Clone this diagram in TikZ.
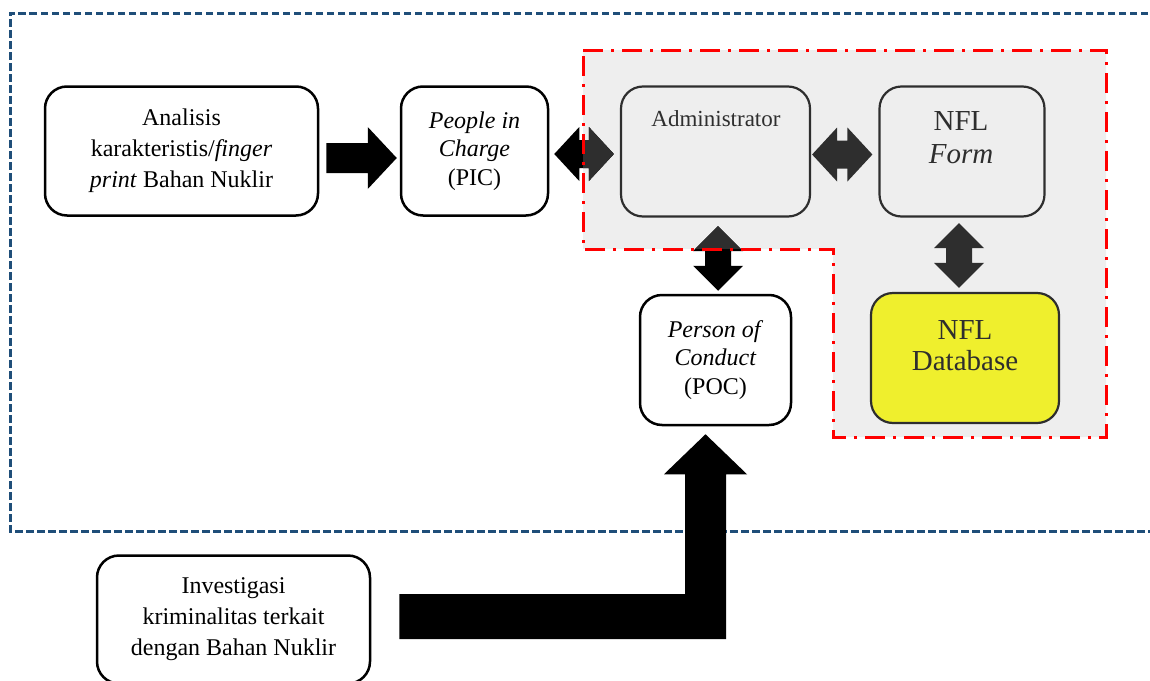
\documentclass[tikz,border=0pt]{standalone}
\usepackage{fontspec}
\setmainfont{Liberation Serif}
\usetikzlibrary{calc}
\definecolor{bluedash}{RGB}{31,78,121}
\definecolor{regiongray}{RGB}{238,238,238}
\definecolor{darkg}{RGB}{46,46,46}
\definecolor{dbyellow}{RGB}{239,239,45}
\newcommand\hdblarrow[3]{%
  \path[#3] let \p1=#1, \p2=#2 in
  (\x1,\y1) -- (\x1+25pt,\y1+27pt) -- (\x1+25pt,\y1+14pt) -- (\x2-25pt,\y1+14pt)
  -- (\x2-25pt,\y1+27pt) -- (\x2,\y1) -- (\x2-25pt,\y1-27pt) -- (\x2-25pt,\y1-14pt)
  -- (\x1+25pt,\y1-14pt) -- (\x1+25pt,\y1-27pt) -- cycle;}
\newcommand\vdblarrow[3]{%
  \path[#3] let \p1=#1, \p2=#2 in
  (\x1,\y1) -- (\x1+25pt,\y1-25pt) -- (\x1+13pt,\y1-25pt) -- (\x1+13pt,\y2+25pt)
  -- (\x1+25pt,\y2+25pt) -- (\x1,\y2) -- (\x1-25pt,\y2+25pt) -- (\x1-13pt,\y2+25pt)
  -- (\x1-13pt,\y1-25pt) -- (\x1-25pt,\y1-25pt) -- cycle;}
\newcommand\regionpath{(583,50) -- (1106,50) -- (1106,437) -- (833,437) -- (833,249) -- (583,249) -- cycle}
\tikzset{
  box/.style={draw=black, line width=2.5pt, fill=white, rounded corners=22pt,
    inner sep=0pt, align=center, font=\fontsize{24}{31}\selectfont},
  gbox/.style={box, draw=darkg, line width=2.2pt, fill=regiongray, text=darkg},
  tight/.style={font=\fontsize{24}{28.5}\selectfont},
  big/.style={font=\fontsize{29}{32}\selectfont, text=darkg, align=center, inner sep=0pt},
  blk/.style={fill=black},
  dg/.style={fill=darkg},
}
\begin{document}
\begin{tikzpicture}[x=1pt,y=-1pt]
\useasboundingbox (0,0) rectangle (1150,680);
% outer dashed frame
\draw[bluedash, line width=3pt, dash pattern=on 7.5pt off 3.5pt] (1170,13) -- (10,13) -- (10,531) -- (1170,531);
% grey region
\fill[regiongray] \regionpath;
% boxes
\node[box, minimum width=273pt, minimum height=129pt] (ana) at (181.5,151)
  {Analisis\\karakteristis/\textit{finger}\\\textit{print} Bahan Nuklir};
\node[box, tight, minimum width=147pt, minimum height=129pt] (pic) at (474.5,151)
  {\textit{People in}\\\textit{Charge}\\(PIC)};
\node[gbox, minimum width=189pt, minimum height=130pt] (adm) at (715.5,151.5) {};
\node[anchor=base, inner sep=0pt, text=darkg, font=\fontsize{23}{28}\selectfont] (admt) at (716,126) {Administrator};
\node[gbox, minimum width=165pt, minimum height=130pt] (form) at (962,151.5) {};
\node[big, font=\fontsize{29}{33}\selectfont] (formt) at (961,138) {NFL\\\textit{Form}};
\node[gbox, fill=dbyellow, minimum width=188pt, minimum height=130pt] (db) at (965,358) {};
\node[big, font=\fontsize{29}{31}\selectfont] (dbt) at (965,346) {NFL\\Database};
\node[box, tight, minimum width=151pt, minimum height=130pt] (poc) at (715.5,360)
  {\textit{Person of}\\\textit{Conduct}\\(POC)};
\node[box, minimum width=273pt, minimum height=128pt] (inv) at (233.5,619.5)
  {Investigasi\\kriminalitas terkait\\dengan Bahan Nuklir};
% single arrow analisis -> PIC
\path[blk] let \p1=($(ana.east)+(7,7)$), \p2=($(pic.west)+(-3,7)$) in
  (\x1,\y1+15pt) -- (\x2-29pt,\y1+15pt) -- (\x2-29pt,\y1+31pt) -- (\x2,\y1)
  -- (\x2-29pt,\y1-31pt) -- (\x2-29pt,\y1-15pt) -- (\x1,\y1-15pt) -- cycle;
% PIC <-> Administrator
\hdblarrow{($(pic.east)+(5,3)$)}{($(adm.west)+(-6,3)$)}{blk}
% Administrator <-> POC
\vdblarrow{($(adm.south)+(2.5,8.5)$)}{($(poc.north)+(2.5,-3)$)}{blk}
\begin{scope}
  \clip \regionpath;
  \hdblarrow{($(pic.east)+(5,3)$)}{($(adm.west)+(-6,3)$)}{dg}
  \vdblarrow{($(adm.south)+(2.5,8.5)$)}{($(poc.north)+(2.5,-3)$)}{dg}
\end{scope}
% Administrator <-> NFL Form
\hdblarrow{($(adm.east)+(1,3)$)}{($(form.west)+(-6,3)$)}{dg}
% NFL Form <-> Database
\vdblarrow{($(form.south)+(-3,5.5)$)}{($(db.north)+(-6,-4)$)}{dg}
% bent arrow Investigasi -> POC
\path[blk] let \p1=($(inv.east)+(28,-3)$), \p2=($(poc.south)+(-10,8)$) in
  (\x1,\y1+22.5pt) -- (\x2-20.5pt,\y1+22.5pt) -- (\x2-20.5pt,\y2-40pt)
  -- (\x2-41.5pt,\y2-40pt) -- (\x2,\y2) -- (\x2+41.5pt,\y2-40pt)
  -- (\x2+20.5pt,\y2-40pt) -- (\x2+20.5pt,\y1-22.5pt) -- (\x1,\y1-22.5pt) -- cycle;
% red dash-dot border
\draw[red, line width=3pt, dash pattern=on 20pt off 8pt on 3pt off 8pt] \regionpath;
\end{tikzpicture}
\end{document}
